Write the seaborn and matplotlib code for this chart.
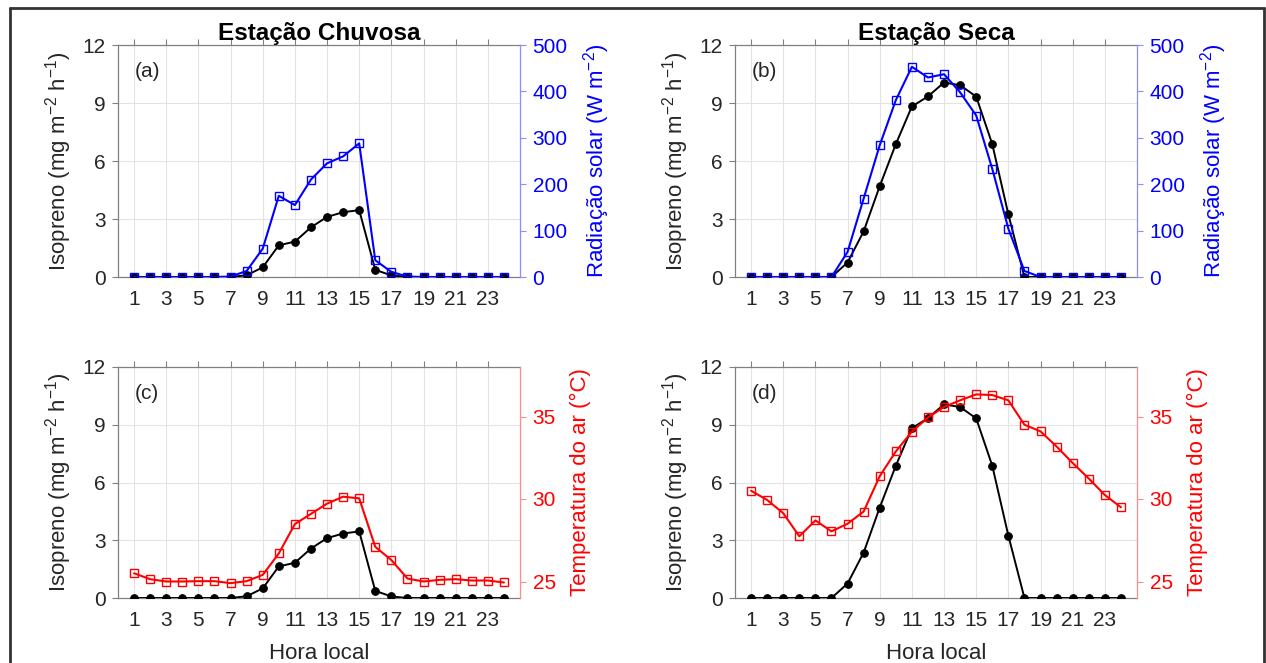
import numpy as np
import pandas as pd
import seaborn as sns
import matplotlib
matplotlib.use("Agg")
import matplotlib.pyplot as plt
from matplotlib.lines import Line2D

# ---------------- data ----------------
hours = list(range(1, 25))
iso_wet = [0, 0, 0, 0, 0, 0, 0, 0.09, 0.50, 1.64, 1.83, 2.57, 3.11, 3.35, 3.46, 0.37, 0.08,
           0, 0, 0, 0, 0, 0, 0]
iso_dry = [0, 0, 0, 0, 0, 0, 0.75, 2.36, 4.70, 6.87, 8.82, 9.34, 10.06, 9.92, 9.33, 6.87, 3.24,
           0, 0, 0, 0, 0, 0, 0]
rad_wet = [0, 0, 0, 0, 0, 0, 1, 13, 61, 175, 155, 210, 245, 260, 288, 36, 11, 1,
           0, 0, 0, 0, 0, 0]
rad_dry = [0, 0, 0, 0, 0, 0, 54, 169, 284, 381, 453, 430, 437, 398, 348, 233, 104, 13,
           0, 0, 0, 0, 0, 0]
temp_wet = [25.5, 25.14, 25.0, 25.0, 25.02, 25.02, 24.9, 25.02, 25.4, 26.7, 28.48, 29.1,
            29.72, 30.14, 30.04, 27.1, 26.3, 25.18, 25.0, 25.1, 25.14, 25.06, 25.06, 24.94]
temp_dry = [30.5, 29.94, 29.14, 27.74, 28.7, 28.04, 28.5, 29.24, 31.38, 32.88, 34.08, 34.94,
            35.58, 35.98, 36.34, 36.3, 35.98, 34.5, 34.1, 33.18, 32.18, 31.24, 30.24, 29.5]

titles = ["Estação Chuvosa", "Estação Seca"]
panel_letters = ["(a)", "(b)", "(c)", "(d)"]
xticks = list(range(1, 25, 2))
iso_ticks = [0, 3, 6, 9, 12]
rad_ticks = [0, 100, 200, 300, 400, 500]
temp_ticks = [25, 30, 35]

# ---------------- style ----------------
sns.set_style("white")
plt.rcParams["font.family"] = ["Liberation Sans", "DejaVu Sans"]
plt.rcParams["mathtext.default"] = "regular"

W, H = 1266, 663
fig = plt.figure(figsize=(W / 100, H / 100), dpi=100)
fig.patch.set_facecolor("white")

def fr(x0, x1, ytop, ybot):
    return [x0 / W, 1 - ybot / H, (x1 - x0) / W, (ybot - ytop) / H]

positions = [fr(118, 520, 45, 277), fr(735, 1137, 45, 277),
             fr(118, 520, 367, 598), fr(735, 1137, 367, 598)]

GRAY = "#808080"
TXT = "#262626"
FS = 15
LFS = 16

iso_sets = [iso_wet, iso_dry, iso_wet, iso_dry]
right_sets = [rad_wet, rad_dry, temp_wet, temp_dry]

for i in range(4):
    ax = fig.add_axes(positions[i])
    df = pd.DataFrame({"hora": hours, "iso": iso_sets[i], "right": right_sets[i]})
    sns.lineplot(data=df, x="hora", y="iso", ax=ax, color="black", lw=1.4,
                 marker="o", markersize=5.5, markeredgecolor="black",
                 markerfacecolor="black", zorder=3)
    ax.set_xlim(0, 25)
    ax.set_ylim(0, 12)
    ax.set_xticks(xticks)
    ax.set_xticklabels([str(h) for h in xticks])
    ax.set_yticks(iso_ticks)
    ax.set_axisbelow(True)
    ax.grid(True, color="#e3e3e3", lw=0.8)
    ax.tick_params(direction="out", length=4, width=0.8, color=GRAY,
                   labelcolor=TXT, labelsize=FS, top=True, pad=5)
    for s in ["left", "top", "bottom"]:
        ax.spines[s].set_color(GRAY)
        ax.spines[s].set_linewidth(0.9)
    ax.spines["right"].set_visible(False)
    ax.set_ylabel("Isopreno (mg m$^{-2}$ h$^{-1}$)", fontsize=LFS, color=TXT, labelpad=6)
    if i >= 2:
        ax.set_xlabel("Hora local", fontsize=LFS, color=TXT, labelpad=9.5)
    else:
        ax.set_xlabel("")
        ax.set_title(titles[i], fontsize=17.5, fontweight="bold", color="black", pad=3)
    ax.text(0.042, 0.884, panel_letters[i], transform=ax.transAxes, fontsize=FS,
            color=TXT, va="center", ha="left")

    ax2 = ax.twinx()
    if i < 2:
        col, spcol = "#0000ff", "#8c8cff"
        sns.lineplot(data=df, x="hora", y="right", ax=ax2, color=col, lw=1.5,
                     marker="s", markersize=6, markerfacecolor="none",
                     markeredgecolor=col, markeredgewidth=1.0)
        ax2.set_ylim(0, 500)
        ax2.set_yticks(rad_ticks)
        ax2.set_ylabel("Radiação solar (W m$^{-2}$)", fontsize=LFS, color=col, labelpad=10)
    else:
        col, spcol = "#ff0000", "#ff8c8c"
        sns.lineplot(data=df, x="hora", y="right", ax=ax2, color=col, lw=1.5,
                     marker="s", markersize=6, markerfacecolor="none",
                     markeredgecolor=col, markeredgewidth=1.0)
        ax2.set_ylim(24, 38)
        ax2.set_yticks(temp_ticks)
        ax2.set_ylabel("Temperatura do ar (°C)", fontsize=LFS, color=col, labelpad=10)
    ax2.set_xlim(0, 25)
    ax2.set_xlabel("")
    ax2.tick_params(axis="y", direction="out", length=4, width=0.8, color=spcol,
                    labelcolor=col, labelsize=FS, pad=5)
    for s in ["left", "top", "bottom"]:
        ax2.spines[s].set_visible(False)
    ax2.spines["right"].set_color(spcol)
    ax2.spines["right"].set_linewidth(0.9)

# figure border (cropped at bottom in the reference)
bx0, bx1, by0 = 10 / W, 1264 / W, 1 - 8 / H
for xs, ys in [([bx0, bx1], [by0, by0]), ([bx0, bx0], [by0, 0]), ([bx1, bx1], [by0, 0])]:
    fig.add_artist(Line2D(xs, ys, transform=fig.transFigure, color="#333333", lw=2))

fig.savefig("out.png", dpi=100, facecolor="white")
